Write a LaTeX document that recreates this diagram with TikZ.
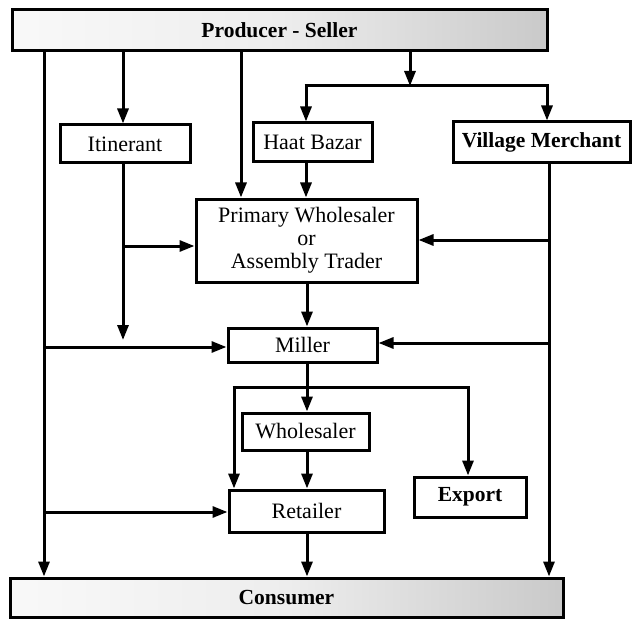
\documentclass[tikz,border=0pt]{standalone}
\usepackage{fontspec}
\setmainfont{Liberation Serif}
\usetikzlibrary{arrows.meta}
\begin{document}
\begin{tikzpicture}[x=1pt,y=-1pt,
  box/.style={draw, line width=3pt, inner sep=0pt, align=center, fill=white,
    font=\fontsize{22}{23}\selectfont},
  bbox/.style={box, font=\fontsize{21.5}{23}\selectfont\bfseries},
  band/.style={bbox, left color=gray!5, right color=gray!42, middle color=gray!14},
  conn/.style={line width=3pt},
  arr/.style={conn, -{Triangle[length=15pt,width=11pt]}}]
\useasboundingbox (0,0) rectangle (633,626);
% boxes
\node[band, minimum width=535pt, minimum height=41pt] (ps) at (279.5,30.5) {Producer - Seller};
\node[band, minimum width=553pt, minimum height=39pt] (cons) at (286.5,597.5) {Consumer};
\node[box, minimum width=130pt, minimum height=38pt] (itin) at (125,144) {Itinerant};
\node[box, minimum width=119pt, minimum height=39pt] (haat) at (312.5,142.5) {Haat Bazar};
\node[bbox, minimum width=177pt, minimum height=41pt] (vm) at (541.5,142.5) {Village Merchant};
\node[box, minimum width=221pt, minimum height=83pt] (pw) at (306.5,240.5) {Primary Wholesaler\\or\\Assembly Trader};
\node[box, minimum width=149pt, minimum height=34pt] (mill) at (302.5,345) {Miller};
\node[box, minimum width=127pt, minimum height=37pt] (whole) at (305.5,431.5) {Wholesaler};
\node[box, minimum width=155pt, minimum height=42pt] (ret) at (306.5,511) {Retailer};
\node[bbox, minimum width=112pt, minimum height=40pt] (exp) at (470,497) {Export};
% junction coordinates
\coordinate (lx) at (44,0);
\coordinate (ix) at (123,0);
\coordinate (vx) at (549,0);
\coordinate (px) at (241,0);
\coordinate (hx) at (306,0);
\coordinate (mx) at (307,0);
\coordinate (j1) at (410,86);
\coordinate (h1) at (306,86);
\coordinate (h2) at (547,86);
\coordinate (iend) at (123,340);
\coordinate (ib) at (123,246);
\coordinate (vb) at (549,240);
\coordinate (lm) at (44,347);
\coordinate (vm2) at (549,343);
\coordinate (mj) at (307,387);
\coordinate (mjl) at (234,387);
\coordinate (mjr) at (468,387);
\coordinate (lr) at (44,512);
% connectors
\draw[arr] (ps.south -| lx) -- (cons.north -| lx);
\draw[arr] (ps.south -| ix) -- (itin.north -| ix);
\draw[arr] (ps.south -| px) -- (pw.north -| px);
\draw[arr] (ps.south -| j1) -- (j1);
\draw[conn] ([xshift=-1.5pt]h1) -- ([xshift=1.5pt]h2);
\draw[arr] (h1) -- (haat.north -| h1);
\draw[arr] (h2) -- (vm.north -| h2);
\draw[arr] (haat.south -| hx) -- (pw.north -| hx);
\draw[arr] (itin.south -| ix) -- (iend);
\draw[arr] (ib) -- (pw.west |- ib);
\draw[arr] (vm.south -| vx) -- (cons.north -| vx);
\draw[arr] (vb) -- (pw.east |- vb);
\draw[arr] (pw.south -| mx) -- (mill.north -| mx);
\draw[arr] (lm) -- (mill.west |- lm);
\draw[arr] (vm2) -- (mill.east |- vm2);
\draw[arr] (mill.south -| mx) -- (whole.north -| mx);
\draw[conn] ([xshift=-1.5pt]mjl) -- ([xshift=1.5pt]mjr);
\draw[arr] (mjl) -- (ret.north -| mjl);
\draw[arr] (mjr) -- (exp.north -| mjr);
\draw[arr] (whole.south -| mx) -- (ret.north -| mx);
\draw[arr] (lr) -- (ret.west |- lr);
\draw[arr] (ret.south -| mx) -- (cons.north -| mx);
\end{tikzpicture}
\end{document}
